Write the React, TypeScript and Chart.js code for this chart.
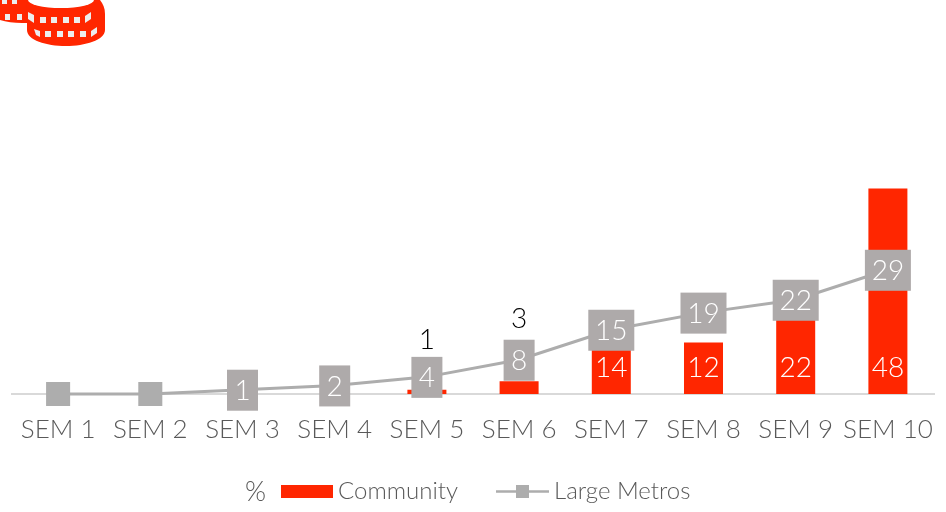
import React, { useEffect, useRef } from "react";
import { Chart, registerables } from "chart.js";

Chart.register(...registerables);

const semesters = ["SEM 1", "SEM 2", "SEM 3", "SEM 4", "SEM 5", "SEM 6", "SEM 7", "SEM 8", "SEM 9", "SEM 10"];
const communityValues = [0, 0, 0, 0, 1, 3, 14, 12, 22, 48];
const metroValues = [0, 0, 1, 2, 4, 8, 15, 19, 22, 29];
const unitLabel = "%";

const RED = "#FF2600";
const GREY = "#AEAAAA";
const LINE = "#ADADAD";
const TEXT = "#595959";
const FONT = "Lato";

const labelPlugin = {
  id: "boxLabels",
  afterDatasetsDraw(chart: any) {
    const { ctx, scales } = chart;
    const x = scales.x;
    const y = scales.y;
    ctx.save();
    ctx.textAlign = "center";
    ctx.textBaseline = "middle";
    ctx.font = `300 28px ${FONT}`;
    metroValues.forEach((v, i) => {
      const cx = x.getPixelForValue(i);
      const cy = y.getPixelForValue(v) + 0.5;
      const cv = communityValues[i];
      if (v > 0) {
        const w = v >= 10 ? 46 : 31;
        ctx.fillStyle = GREY;
        ctx.fillRect(cx - w / 2, cy - 20.5, w, 41);
        ctx.fillStyle = "#FFFFFF";
        ctx.fillText(String(v), cx, cy + 1);
      }
      if (cv > 0) {
        if (cv >= 10) {
          ctx.fillStyle = "#FFFFFF";
          ctx.fillText(String(cv), cx, y.getPixelForValue(0) - 26);
        } else {
          ctx.fillStyle = "#000000";
          ctx.fillText(String(cv), cx, cy - (cv >= 3 ? 41 : 37));
        }
      }
    });
    ctx.restore();
  },
};

const legendPlugin = {
  id: "sideLegend",
  afterDraw(chart: any) {
    const { ctx } = chart;
    const [bar, line] = chart.data.datasets;
    const cy = 491.5;
    ctx.save();
    ctx.textBaseline = "middle";
    ctx.textAlign = "left";
    ctx.fillStyle = TEXT;
    ctx.font = `300 27px ${FONT}`;
    ctx.fillText(unitLabel, 245, cy + 1);
    ctx.font = `300 24px ${FONT}`;
    ctx.fillStyle = RED;
    ctx.fillRect(281, 485, 52, 13);
    ctx.fillStyle = TEXT;
    ctx.fillText(bar.label, 338, cy);
    ctx.strokeStyle = LINE;
    ctx.lineWidth = 2.5;
    ctx.beginPath();
    ctx.moveTo(496, cy);
    ctx.lineTo(549, cy);
    ctx.stroke();
    ctx.fillStyle = LINE;
    ctx.fillRect(516, 485, 13, 13);
    ctx.fillStyle = TEXT;
    ctx.fillText(line.label, 554, cy);
    ctx.restore();
  },
};

function Coins() {
  const row1 = [40, 51, 63, 74];
  const row2 = [45, 57, 68, 80];
  return (
    <svg width="130" height="60" style={{ position: "absolute", left: 0, top: 0 }}>
      <path d="M0 0 H34 V23 H22 C14 23 6 22 0 20 Z" fill={RED} />
      <path d="M26 0 H100 C103 4 105 8 105 14 V30 C105 40 85 46 66 46 C46 46 27 40 27 30 V20 C27 12 26 6 26 0 Z" fill={RED} />
      <ellipse cx="61" cy="0" rx="33" ry="8" fill="#FFFFFF" />
      {[5, 17].map((x) => <rect key={"a" + x} x={x} y={14} width="5" height="6" fill="#EDEDED" />)}
      {[2, 12].map((x) => <rect key={"b" + x} x={x} y={0} width="5" height="4" fill="#EDEDED" />)}
      <path d="M28 12 L34 15 V23 L28 19 Z" fill="#EDEDED" />
      {row1.map((x) => <rect key={"c" + x} x={x} y={17} width="6" height="6" fill="#EDEDED" />)}
      <path d="M85 16 L91 12 V19 L85 23 Z" fill="#EDEDED" />
      <path d="M34 29 L40 31 V37 L36 35 Z" fill="#EDEDED" />
      {row2.map((x) => <rect key={"d" + x} x={x} y={31} width="6" height="6" fill="#EDEDED" />)}
      <path d="M91 31 L97 27 V33 L91 37 Z" fill="#EDEDED" />
    </svg>
  );
}

export default function App() {
  const ref = useRef<HTMLCanvasElement>(null);
  useEffect(() => {
    const chart = new Chart(ref.current as HTMLCanvasElement, {
      type: "bar",
      data: {
        labels: semesters,
        datasets: [
          {
            type: "bar",
            label: "Community",
            data: communityValues,
            backgroundColor: RED,
            categoryPercentage: 1,
            barPercentage: 0.423,
            order: 2,
          },
          {
            type: "line",
            label: "Large Metros",
            data: metroValues,
            borderColor: LINE,
            borderWidth: 3,
            backgroundColor: LINE,
            pointStyle: "rect",
            pointRadius: 17,
            pointBorderWidth: 0,
            tension: 0,
            clip: false,
            order: 1,
          },
        ],
      } as any,
      options: {
        animation: false,
        responsive: false,
        layout: { autoPadding: false, padding: { left: 12, right: 12, top: 137, bottom: 0 } },
        plugins: { legend: { display: false }, tooltip: { enabled: false } },
        scales: {
          x: {
            offset: true,
            grid: { display: false },
            border: { color: "#D9D9D9", width: 2 },
            afterFit: (s: any) => { s.height = 118; s.paddingLeft = 0; s.paddingRight = 0; },
            ticks: {
              color: TEXT,
              padding: 12,
              maxRotation: 0,
              autoSkip: false,
              font: { family: FONT, size: 26, weight: "300" },
            },
          },
          y: { display: false, min: 0, max: 60 },
        },
      } as any,
      plugins: [labelPlugin, legendPlugin],
    });
    return () => chart.destroy();
  }, []);
  return (
    <div style={{ position: "absolute", left: 0, top: 0, width: 946, height: 512, background: "#FFFFFF", overflow: "hidden" }}>
      <canvas ref={ref} width={946} height={512} style={{ display: "block" }} />
      <Coins />
    </div>
  );
}
